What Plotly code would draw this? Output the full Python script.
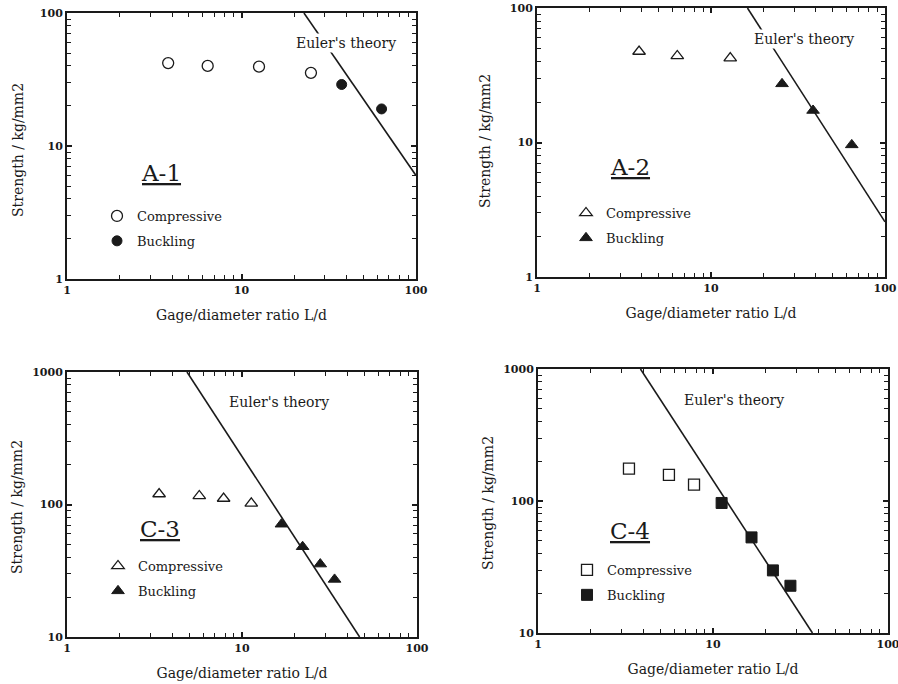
import plotly.graph_objects as go

W, H = 898, 684

# ---------------- data ----------------
A1_comp_x = [3.8, 6.4, 12.6, 25.0]
A1_comp_y = [42, 40, 39.5, 35.5]
A1_buck_x = [37.5, 63.5]
A1_buck_y = [29, 19]
A1_euler_x = [22.8, 100]
A1_euler_y = [100, 6.0]

A2_comp_x = [3.86, 6.4, 12.9]
A2_comp_y = [47.5, 44, 42.4]
A2_buck_x = [25.6, 38.6, 64.4]
A2_buck_y = [27.3, 17.3, 9.6]
A2_euler_x = [16.2, 100]
A2_euler_y = [100, 2.57]

C3_comp_x = [3.36, 5.7, 7.85, 11.3]
C3_comp_y = [120, 116, 111, 102]
C3_buck_x = [16.8, 22.2, 28.0, 33.8]
C3_buck_y = [71, 48, 35.5, 27.2]
C3_euler_x = [4.85, 47]
C3_euler_y = [1000, 10]

C4_comp_x = [3.31, 5.6, 7.79]
C4_comp_y = [176, 158, 133]
C4_buck_x = [11.2, 16.6, 22.0, 27.7]
C4_buck_y = [96.6, 53, 29.8, 22.8]
C4_euler_x = [3.85, 37]
C4_euler_y = [1000, 10]

x_ticks = [1, 10, 100]
x_ticklabels = ["1", "10", "100"]
yA_ticks = [1, 10, 100]
yA_ticklabels = ["1", "10", "100"]
yC_ticks = [10, 100, 1000]
yC_ticklabels = ["10", "100", "1000"]

panel_names = ["A-1", "A-2", "C-3", "C-4"]
x_title = "Gage/diameter ratio L/d"
y_title = "Strength / kg/mm2"
euler_text = "Euler's theory"
comp_name = "Compressive"
buck_name = "Buckling"

FONT = "DejaVu Serif"
INK = "#1a1a1a"


def px(x):
    return x / W


def py(y):
    return 1 - y / H


panels = [
    dict(cx=A1_comp_x, cy=A1_comp_y, bx=A1_buck_x, by=A1_buck_y, ex=A1_euler_x, ey=A1_euler_y,
         csym="circle-open", bsym="circle", csize=11, bsize=10,
         yt=yA_ticks, ytl=yA_ticklabels, yr=[0, 2],
         box=(67, 416, 13, 279), leg=(118, 214), lab=(161, 173), eul=(346, 43), yttl=(18, 150)),
    dict(cx=A2_comp_x, cy=A2_comp_y, bx=A2_buck_x, by=A2_buck_y, ex=A2_euler_x, ey=A2_euler_y,
         csym="triangle-up-open", bsym="triangle-up", csize=11, bsize=11,
         yt=yA_ticks, ytl=yA_ticklabels, yr=[0, 2],
         box=(537, 885, 8, 277), leg=(587, 211), lab=(630, 167), eul=(804, 39), yttl=(485, 141)),
    dict(cx=C3_comp_x, cy=C3_comp_y, bx=C3_buck_x, by=C3_buck_y, ex=C3_euler_x, ey=C3_euler_y,
         csym="triangle-up-open", bsym="triangle-up", csize=11, bsize=11,
         yt=yC_ticks, ytl=yC_ticklabels, yr=[1, 3],
         box=(67, 417, 372, 637), leg=(119, 564), lab=(160, 529), eul=(279, 402), yttl=(17, 507)),
    dict(cx=C4_comp_x, cy=C4_comp_y, bx=C4_buck_x, by=C4_buck_y, ex=C4_euler_x, ey=C4_euler_y,
         csym="square-open", bsym="square", csize=11, bsize=11,
         yt=yC_ticks, ytl=yC_ticklabels, yr=[1, 3],
         box=(538, 888, 369, 633), leg=(588, 568), lab=(630, 531), eul=(734, 400), yttl=(488, 503)),
]

minor_x = [v * m for m in (1, 10) for v in range(2, 10)]

fig = go.Figure()
layout = dict(
    width=W, height=H, margin=dict(l=0, r=0, t=0, b=0, autoexpand=False),
    paper_bgcolor="white", plot_bgcolor="white",
    font=dict(family=FONT, color=INK),
    annotations=[],
)

for i, p in enumerate(panels):
    n = "" if i == 0 else str(i + 1)
    xa, ya = "x" + n, "y" + n
    leg = "legend" + n
    fig.add_trace(go.Scatter(x=p["ex"], y=p["ey"], mode="lines", xaxis=xa, yaxis=ya,
                             line=dict(color=INK, width=1.6), showlegend=False, hoverinfo="skip"))
    fig.add_trace(go.Scatter(x=p["cx"], y=p["cy"], mode="markers", name=comp_name, xaxis=xa, yaxis=ya,
                             legend=leg, legendgroup="c" + n,
                             marker=dict(symbol=p["csym"], size=p["csize"], color=INK,
                                         line=dict(color=INK, width=1.3))))
    fig.add_trace(go.Scatter(x=p["bx"], y=p["by"], mode="markers", name=buck_name, xaxis=xa, yaxis=ya,
                             legend=leg, legendgroup="b" + n,
                             marker=dict(symbol=p["bsym"], size=p["bsize"], color=INK,
                                         line=dict(color=INK, width=1))))
    x0, x1, y0, y1 = p["box"]
    ylo, yhi = p["yr"]
    minor_y = [v * m for m in (10 ** ylo, 10 ** (ylo + 1)) for v in range(2, 10)]
    axcommon = dict(type="log", showgrid=False, zeroline=False, showline=True, linecolor=INK,
                    linewidth=2, mirror="allticks", ticks="inside", ticklen=5, tickwidth=1.5,
                    tickcolor=INK, automargin=False, ticklabeloverflow="allow",
                    tickfont=dict(family=FONT, size=11, color=INK, weight="bold"),
                    title_font=dict(family=FONT, size=14, color=INK))
    layout["xaxis" + n] = dict(axcommon, domain=[px(x0), px(x1)], range=[0, 2], anchor=ya,
                               tickvals=x_ticks, ticktext=x_ticklabels,
                               minor=dict(tickvals=minor_x, ticks="inside", ticklen=4, tickcolor=INK,
                                          tickwidth=1.2),
                               title=dict(text=x_title, standoff=14))
    layout["yaxis" + n] = dict(axcommon, domain=[py(y1), py(y0)], range=[ylo, yhi], anchor=xa,
                               tickvals=p["yt"], ticktext=p["ytl"],
                               minor=dict(tickvals=minor_y, ticks="inside", ticklen=4, tickcolor=INK,
                                          tickwidth=1.2))
    tx, ty = p["yttl"]
    layout["annotations"].append(dict(text=y_title, x=px(tx), y=py(ty), textangle=-90,
                                      xref="paper", yref="paper", showarrow=False,
                                      xanchor="center", yanchor="middle",
                                      font=dict(family=FONT, size=14, color=INK)))
    lx, ly = p["leg"]
    layout[leg] = dict(x=px(lx - 21), y=py(ly - 13), xanchor="left", yanchor="top",
                       bgcolor="rgba(0,0,0,0)", font=dict(family=FONT, size=13, color=INK),
                       tracegroupgap=5, traceorder="grouped", itemwidth=30)
    ax_, ay_ = p["lab"]
    layout["annotations"].append(dict(text="<u>" + panel_names[i] + "</u>", x=px(ax_), y=py(ay_),
                                      xref="paper", yref="paper", showarrow=False,
                                      xanchor="center", yanchor="middle",
                                      font=dict(family=FONT, size=23, color=INK)))
    ex_, ey_ = p["eul"]
    layout["annotations"].append(dict(text=euler_text, x=px(ex_), y=py(ey_),
                                      xref="paper", yref="paper", showarrow=False, bgcolor="white",
                                      xanchor="center", yanchor="middle",
                                      font=dict(family=FONT, size=14, color=INK)))

fig.update_layout(**layout)
fig.write_html(
    "out.html",
    config={"displayModeBar": False},
    post_script="document.body.style.margin='0';document.body.style.overflow='hidden';",
)
